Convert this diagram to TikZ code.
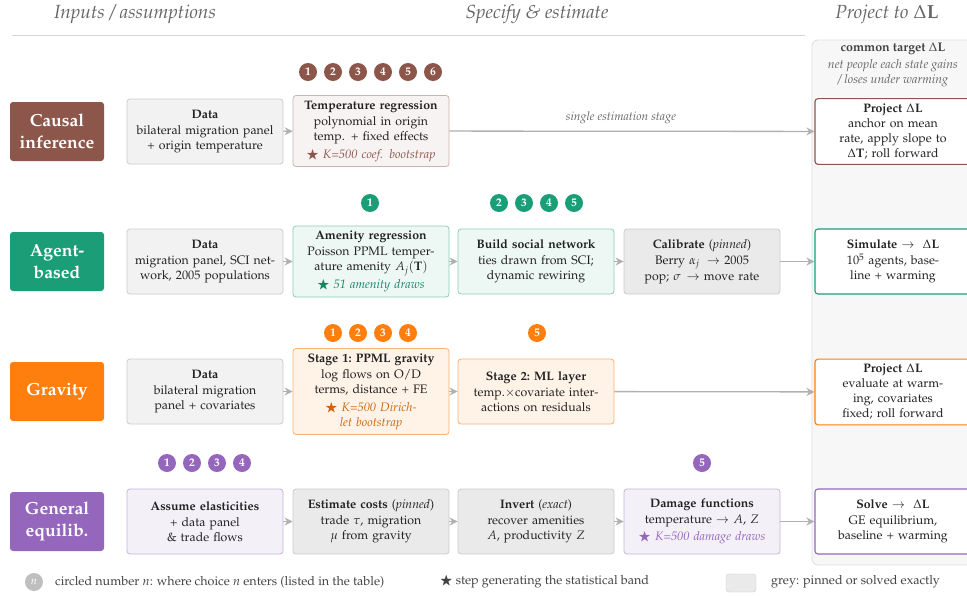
\documentclass[tikz,border=0pt]{standalone}
\usepackage[T1]{fontenc}
\usepackage{mathpazo}
\usepackage{amssymb}
\usetikzlibrary{arrows.meta}
\definecolor{cbrown}{HTML}{8C564B}
\definecolor{cgreen}{HTML}{1B9E77}
\definecolor{corange}{HTML}{FF7F0E}
\definecolor{cpurple}{HTML}{9467BD}
\definecolor{gfill}{HTML}{F2F2F2}
\definecolor{gline}{HTML}{CCCCCC}
\definecolor{pfill}{HTML}{EAEAEA}
\definecolor{arrgrey}{HTML}{B0B0B0}
\definecolor{txt}{HTML}{222222}
\definecolor{hdr}{HTML}{666666}
\tikzset{
  x=1pt, y=-1pt,
  rowlbl/.style={rounded corners=3pt, minimum width=94pt, minimum height=59pt, text=white,
    font=\fontsize{17.5}{22}\selectfont\bfseries, align=center, inner sep=0pt},
  bx/.style={rounded corners=3pt, minimum width=156pt, minimum height=65pt, text width=152pt,
    align=center, inner xsep=2pt, inner ysep=5pt, line width=0.8pt, text=txt,
    font=\fontsize{12.3}{15}\selectfont},
  databox/.style={bx, fill=gfill, draw=gline},
  pinbox/.style={bx, fill=pfill, draw=gline},
  brbox/.style={bx, fill=cbrown!7, draw=cbrown!45},
  grbox/.style={bx, fill=cgreen!8, draw=cgreen!50},
  orbox/.style={bx, fill=corange!10, draw=corange!60},
  pubox/.style={bx, fill=cpurple!10, draw=cpurple!50},
  outbox/.style={bx, fill=white, line width=1.1pt},
  badge/.style={circle, minimum size=18pt, inner sep=0pt, text=white,
    font=\fontsize{11.5}{12}\selectfont\bfseries},
  arr/.style={draw=arrgrey, line width=1.3pt, -{Stealth[length=8pt, width=8pt]}},
  hdrtxt/.style={text=hdr, font=\fontsize{19}{22}\selectfont\itshape},
  legtxt/.style={text=txt!85, font=\fontsize{12.6}{14}\selectfont, anchor=west, inner sep=0pt},
}
\newcommand{\DL}{\ensuremath{\Delta\mathbf{L}}}
\newcommand{\bstar}{\ensuremath{\bigstar}}
\begin{document}
\begin{tikzpicture}
\useasboundingbox (0,0) rectangle (967,595);
\fill[white] (0,0) rectangle (967,595);

% headers
\node[hdrtxt] (h1) at (135,14) {Inputs / assumptions};
\node[hdrtxt] (h2) at (537,14) {Specify \& estimate};
\node[hdrtxt] (h3) at (887,14) {Project to \DL};
\draw[gline!80, line width=0.8pt] (12,35) -- (805,35);

% right panel
\draw[rounded corners=6pt, fill=black!3, draw=black!13, line width=0.8pt] (812,40) rectangle (990,565);
\node[text=txt!85, font=\fontsize{12.5}{14}\selectfont\bfseries] (ct) at (893,49) {common target \DL};
\node[text=hdr, font=\fontsize{12.3}{15}\selectfont\itshape, align=center] (ctd) at (893,73.5) {net people each state gains\\ / loses under warming};

% row labels
\node[rowlbl, fill=cbrown] (L1) at (57,131.5) {Causal\\inference};
\node[rowlbl, fill=cgreen] (L2) at (57,261.5) {Agent-\\based};
\node[rowlbl, fill=corange] (L3) at (57,391.5) {Gravity};
\node[rowlbl, fill=cpurple] (L4) at (57,521.5) {General\\equilib.};

% ---- row 1
\node[databox] (a1) at (205,131.5) {\textbf{Data}\\[1pt] bilateral migration panel\\ + origin temperature};
\node[brbox] (a2) at (371,131) {\textbf{Temperature regression}\\[1pt] polynomial in origin\\ temp. + fixed effects\\[3pt]
  {\color{cbrown}\bstar\ \textit{$K$=500 coef. bootstrap}}};
\node[outbox, draw=cbrown] (a5) at (893,131.5) {\textbf{Project \DL}\\ anchor on mean\\ rate, apply slope to\\ $\Delta\mathbf{T}$; roll forward};
\draw[arr] (a1) -- (a2);
\draw[arr] (a2) -- node[pos=0.47, above=7pt, inner sep=0pt, text=hdr, font=\fontsize{12}{14}\selectfont\itshape] (lab1) {single estimation stage} (a5);

% ---- row 2
\node[databox] (b1) at (205,261.5) {\textbf{Data}\\[1pt] migration panel, SCI net-\\ work, 2005 populations};
\node[grbox] (b2) at (371,261.5) {\textbf{Amenity regression}\\[1pt] Poisson PPML temper-\\ ature amenity $A_j(\mathbf{T})$\\[3pt]
  {\color{cgreen!85!black}\bstar\ \textit{51 amenity draws}}};
\node[grbox] (b3) at (536,261.5) {\textbf{Build social network}\\[1pt] ties drawn from SCI;\\ dynamic rewiring};
\node[pinbox] (b4) at (702,261.5) {\textbf{Calibrate} (\textit{pinned})\\[1pt] Berry $\alpha_j \rightarrow$ 2005\\[1pt] pop; $\sigma \rightarrow$ move rate};
\node[outbox, draw=cgreen] (b5) at (893,261.5) {\textbf{Simulate} $\rightarrow$\ \ \DL\\[1pt] $10^5$ agents, base-\\ line + warming};
\draw[arr] (b1) -- (b2);
\draw[arr] (b2) -- (b3);
\draw[arr] (b3) -- (b4);
\draw[arr] (b4) -- (b5);

% ---- row 3
\node[databox] (c1) at (205,391.5) {\textbf{Data}\\[1pt] bilateral migration\\ panel + covariates};
\node[orbox] (c2) at (371,391.5) {\textbf{Stage 1:\ PPML gravity}\\[1pt] log flows on O/D\\ terms, distance + FE\\[3pt]
  {\color{corange!80!black}\bstar\ \textit{$K$=500 Dirich-}}\\ {\color{corange!80!black}\textit{let bootstrap}}};
\node[orbox] (c3) at (536,391.5) {\textbf{Stage 2:\ ML layer}\\[1pt] temp.$\times$covariate inter-\\ actions on residuals};
\node[outbox, draw=corange] (c5) at (893,392) {\textbf{Project \DL}\\ evaluate at warm-\\ ing, covariates\\ fixed; roll forward};
\draw[arr] (c1) -- (c2);
\draw[arr] (c2) -- (c3);
\draw[arr] (c3) -- (c5);

% ---- row 4
\node[pubox] (d1) at (205,521.5) {\textbf{Assume elasticities}\\[1pt] + data panel\\ \& trade flows};
\node[pinbox] (d2) at (371,521.5) {\textbf{Estimate costs} (\textit{pinned})\\[1pt] trade $\tau$, migration\\ $\mu$ from gravity};
\node[pinbox] (d3) at (536,521.5) {\textbf{Invert} (\textit{exact})\\[1pt] recover amenities\\ $A$, productivity $Z$};
\node[pubox] (d4) at (702,521.5) {\textbf{Damage functions}\\[1pt] temperature $\rightarrow$ $A$, $Z$\\[2pt]
  {\color{cpurple}\bstar\ \textit{$K$=500 damage draws}}};
\node[outbox, draw=cpurple] (d5) at (893,521.5) {\textbf{Solve} $\rightarrow$\ \ \DL\\[1pt] GE equilibrium,\\ baseline + warming};
\draw[arr] (d1) -- (d2);
\draw[arr] (d2) -- (d3);
\draw[arr] (d3) -- (d4);
\draw[arr] (d4) -- (d5);

% ---- badges
\foreach \n/\x in {1/308,2/333,3/358,4/383,5/408,6/433}
  \node[badge, fill=cbrown] (ba\n) at (\x,72) {\n};
\node[badge, fill=cgreen] (bb1) at (370,203) {1};
\foreach \n/\x in {2/499,3/524,4/549,5/574}
  \node[badge, fill=cgreen] (bb\n) at (\x,203) {\n};
\foreach \n/\x in {1/333,2/358,3/383,4/408}
  \node[badge, fill=corange] (bc\n) at (\x,333) {\n};
\node[badge, fill=corange] (bc5) at (537,333) {5};
\foreach \n/\x in {1/167,2/192,3/217,4/242}
  \node[badge, fill=cpurple] (bd\n) at (\x,463) {\n};
\node[badge, fill=cpurple] (bd5) at (702,463) {5};

% ---- legend
\node[badge, fill=black!25, font=\fontsize{11}{12}\selectfont\itshape] (lg1) at (34,582) {$n$};
\node[legtxt] (lt1) at (55,582) {circled number $n$: where choice $n$ enters (listed in the table)};
\node[legtxt] (lt2) at (440,582) {\bstar\ step generating the statistical band};
\node[draw=gline, fill=pfill, rounded corners=3pt, minimum width=30pt, minimum height=18pt, inner sep=0pt] (lg3) at (741,583) {};
\node[legtxt] (lt3) at (771,582) {grey: pinned or solved exactly};
\end{tikzpicture}
\end{document}
